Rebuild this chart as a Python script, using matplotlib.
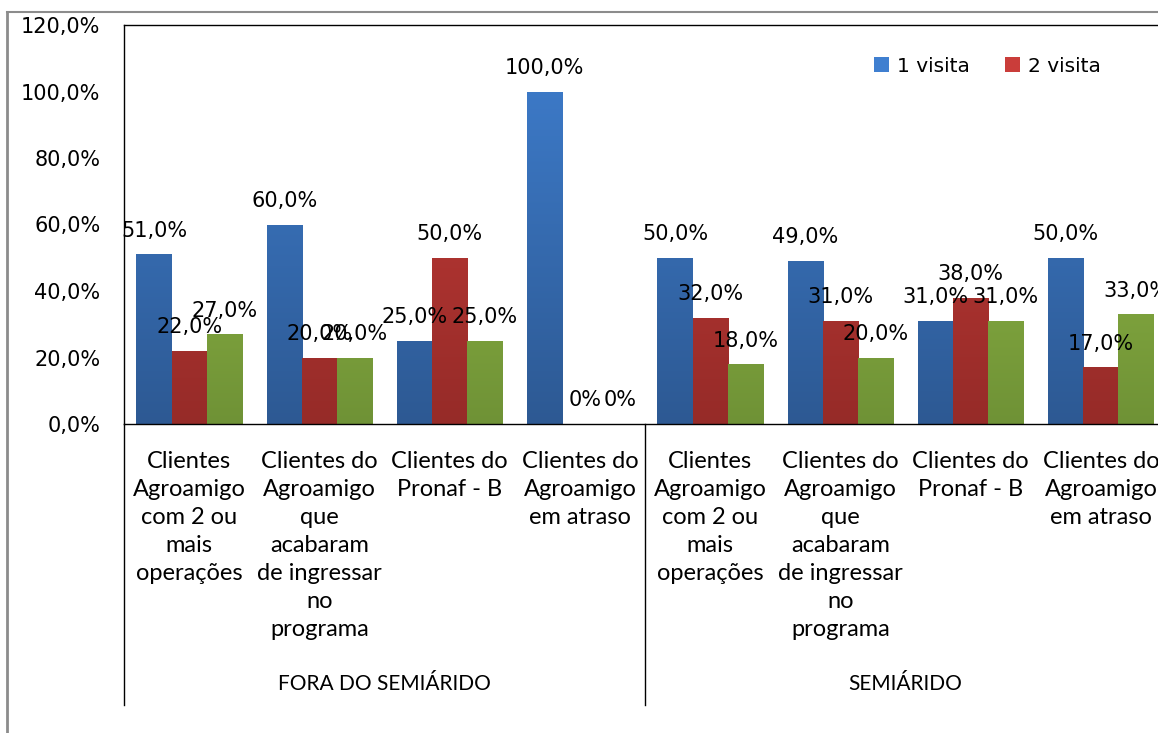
import numpy as np
import matplotlib
matplotlib.use("Agg")
import matplotlib.pyplot as plt
from matplotlib.patches import Patch
from matplotlib.lines import Line2D
from matplotlib.colors import LinearSegmentedColormap
import matplotlib.transforms as mtransforms

# ---------------- data ----------------
groups = ["FORA DO SEMIÁRIDO", "SEMIÁRIDO"]
categories = [
    "Clientes\nAgroamigo\ncom 2 ou\nmais\noperações",
    "Clientes do\nAgroamigo\nque\nacabaram\nde ingressar\nno\nprograma",
    "Clientes do\nPronaf - B",
    "Clientes do\nAgroamigo\nem atraso",
    "Clientes\nAgroamigo\ncom 2 ou\nmais\noperações",
    "Clientes do\nAgroamigo\nque\nacabaram\nde ingressar\nno\nprograma",
    "Clientes do\nPronaf - B",
    "Clientes do\nAgroamigo\nem atraso",
]
series_names = ["1 visita", "2 visita", "3 visita"]
visita1 = [0.51, 0.60, 0.25, 1.00, 0.50, 0.49, 0.31, 0.50]
visita2 = [0.22, 0.20, 0.50, 0.00, 0.32, 0.31, 0.38, 0.17]
visita3 = [0.27, 0.20, 0.25, 0.00, 0.18, 0.20, 0.31, 0.33]
yticks = [0.0, 0.2, 0.4, 0.6, 0.8, 1.0, 1.2]

# ---------------- style ----------------
W, H = 1158, 733
fig = plt.figure(figsize=(W / 100, H / 100), dpi=100)
fig.patch.set_facecolor("white")

ax_left, ax_right, ax_top, ax_bot = 124, 1166, 25, 424
ax = fig.add_axes([ax_left / W, 1 - ax_bot / H, (ax_right - ax_left) / W, (ax_bot - ax_top) / H])

top_cols = ["#3f7fd0", "#ca3d3a", "#9fc74c"]
bot_cols = ["#2d5993", "#962b28", "#6f9236"]
bw = 0.27
x = np.arange(len(categories))
series = [visita1, visita2, visita3]

def fmt(v):
    if v == 0:
        return "0%"
    return f"{v*100:.1f}%".replace(".", ",")

for i, vals in enumerate(series):
    offs = (i - 1) * bw
    bars = ax.bar(x + offs, vals, width=bw, color=top_cols[i], edgecolor="none", zorder=2)
    cmap = LinearSegmentedColormap.from_list(f"g{i}", [bot_cols[i], top_cols[i]])
    grad = np.linspace(0, 1, 256).reshape(-1, 1)
    for b, v in zip(bars, vals):
        if v <= 0:
            continue
        x0 = b.get_x()
        im = ax.imshow(grad, cmap=cmap, aspect="auto", origin="lower",
                       extent=[x0, x0 + b.get_width(), 0, 1.2], zorder=2.1)
        im.set_clip_path(b)
    for xi, v in zip(x, vals):
        dx = 4 if v == 0 else 0
        ax.annotate(fmt(v), (xi + offs, v), xytext=(dx, 17), textcoords="offset points",
                    ha="center", va="center", fontsize=15, family="DejaVu Sans",
                    color="black", zorder=5, annotation_clip=False)

ax.set_xlim(-0.5, len(categories) - 0.5)
ax.set_ylim(0, 1.2)
ax.set_yticks(yticks)
ax.set_yticklabels([f"{t*100:.1f}%".replace(".", ",") for t in yticks], fontsize=15,
                   family="DejaVu Sans")
ax.tick_params(axis="y", length=0, pad=17)
ax.set_xticks([])
for s in ["left", "top", "bottom"]:
    ax.spines[s].set_color("black")
    ax.spines[s].set_linewidth(1.0)
ax.spines["right"].set_visible(False)

# category labels and group dividers
trans = mtransforms.blended_transform_factory(ax.transData, ax.transAxes)
axh = ax_bot - ax_top
for xi, lab in zip(x, categories):
    ax.text(xi, (ax_bot - 451) / axh, lab,
            transform=trans, ha="center", va="top", fontsize=17, family="Lato",
            linespacing=1.41, color="black", clip_on=False)
n_per = len(categories) // len(groups)
for g, gname in enumerate(groups):
    cx = g * n_per + (n_per - 1) / 2
    ax.text(cx, (ax_bot - 684) / axh, gname, transform=trans, ha="center", va="center",
            fontsize=15, family=["Liberation Sans Narrow", "Lato"], color="black", clip_on=False)
for g in range(len(groups) + 1):
    xd = g * n_per - 0.5
    ax.plot([xd, xd], [0, (ax_bot - 705) / axh], transform=trans, color="black",
            lw=1.0, clip_on=False, zorder=3)

# legend (only first two series visible)
handles = [Patch(facecolor=top_cols[i], edgecolor="none") for i in range(2)]
leg = fig.legend(handles, series_names[:2], loc="center left",
                 bbox_to_anchor=(874 / W, 1 - 66 / H), ncol=2, frameon=False,
                 prop={"family": "DejaVu Sans", "size": 14.5}, handlelength=0.75,
                 handleheight=0.75, handletextpad=0.4, columnspacing=1.75,
                 borderpad=0, borderaxespad=0)

# outer chart frame
fig.add_artist(Line2D([7 / W, 7 / W], [0, 1 - 12 / H], transform=fig.transFigure,
                      color="#8c8c8c", lw=2))
fig.add_artist(Line2D([7 / W, 1], [1 - 12 / H, 1 - 12 / H], transform=fig.transFigure,
                      color="#8c8c8c", lw=1.5))

fig.savefig("out.png", dpi=100, facecolor="white")
